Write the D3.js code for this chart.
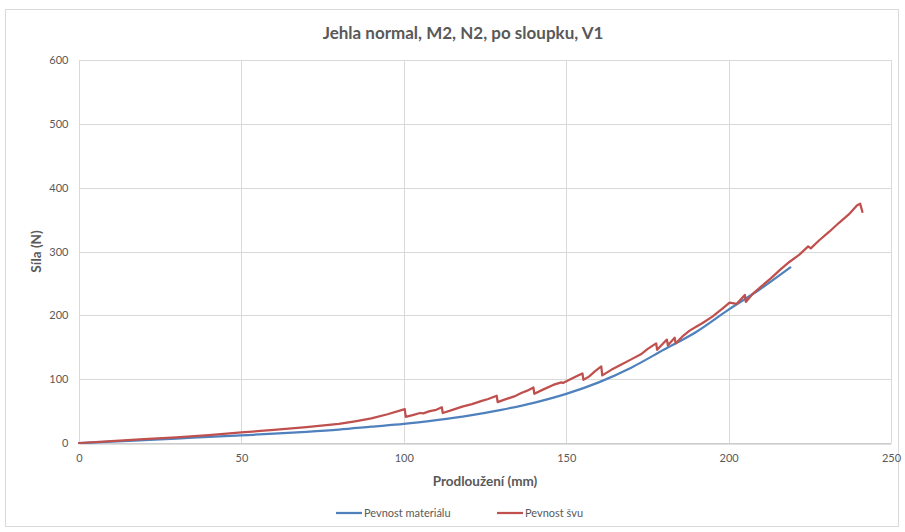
<!DOCTYPE html>
<html>
<head>
<meta charset="utf-8">
<script src="https://cdn.jsdelivr.net/npm/d3@7/dist/d3.min.js"></script>
<style>
  html, body { margin: 0; padding: 0; background: #fff; }
  svg { display: block; }
  text { font-family: Lato, "Noto Sans", sans-serif; }
</style>
</head>
<body>
<svg id="chart" width="905" height="532"></svg>
<script>
// Tensile test: elongation (mm) vs force (N)
const chartTitle = "Jehla normal, M2, N2, po sloupku, V1";
const xTitle = "Prodloužení (mm)";
const yTitle = "Síla (N)";
const xTicks = [0, 50, 100, 150, 200, 250];
const yTicks = [0, 100, 200, 300, 400, 500, 600];
const seriesNames = ["Pevnost materiálu", "Pevnost švu"];

// Material strength (smooth curve)
const materialX = [0, 10, 20, 30, 40, 50, 60, 70, 80, 90, 100, 110, 120, 130, 140, 150, 160, 170, 180, 190, 200, 210, 219];
const materialY = [0, 2, 4.5, 7, 9.5, 12, 14.5, 17.5, 21, 25.5, 30, 36, 43, 52, 63, 77, 95, 118, 146, 174, 209, 242, 275];

// Seam strength (with stitch breaks)
const seamX = [0, 10, 20, 30, 40, 50, 60, 70, 80, 85, 90, 95, 100.3, 100.6, 103, 105, 106, 108, 110, 111.7, 112, 115, 118, 121, 124, 126, 128.6, 128.9, 131, 134, 136, 138, 139.9, 140.2, 143, 146, 148.5, 149, 151, 153, 155, 155.3, 157, 159, 160.8, 161.1, 164, 167, 170, 173, 175, 177.7, 178, 181, 181.3, 183.4, 183.7, 186, 188, 190, 192, 195, 198, 200.3, 202.5, 205, 205.3, 207.5, 210, 213, 216, 218.8, 221.8, 224.5, 225.3, 228, 231, 234, 237, 239.5, 240.5, 241.2];
const seamY = [0, 3, 6, 9, 12.5, 16.5, 20.5, 25, 30, 34, 38.5, 45, 53, 41, 44, 47, 46.5, 50, 52, 56, 47, 52, 57, 61, 66, 69, 74, 64, 68, 73, 78, 82, 87, 77, 84, 91, 95, 94, 99, 104, 109, 99, 104, 113, 120, 106, 115, 123, 131, 139, 147, 156, 146, 162, 153, 165, 156, 168, 176, 182, 188, 198, 210, 220, 218, 232, 221, 234, 245, 258, 272, 284, 295, 308, 305, 318, 331, 345, 358, 372, 375, 362];

const colors = ["#4F81BD", "#C0504D"];

const svg = d3.select("#chart");
const W = 905, H = 532;
const margin = { left: 79, right: 14, top: 60, bottom: 89 };
const x = d3.scaleLinear().domain([0, 250]).range([margin.left, W - margin.right]);
const y = d3.scaleLinear().domain([0, 600]).range([H - margin.bottom, margin.top]);

// chart frame
svg.append("rect")
  .attr("x", 5.5).attr("y", 9.5).attr("width", 893).attr("height", 517)
  .attr("fill", "#fff").attr("stroke", "#d9d9d9").attr("stroke-width", 1);

// title
svg.append("text")
  .attr("x", 463).attr("y", 39)
  .attr("text-anchor", "middle")
  .attr("font-size", 17).attr("font-weight", 700)
  .attr("fill", "#595959")
  .text(chartTitle);

// grid
const grid = svg.append("g");
grid.selectAll(".hg").data(yTicks).join("line")
  .attr("x1", x(0)).attr("x2", x(250))
  .attr("y1", d => Math.round(y(d)) + 0.5).attr("y2", d => Math.round(y(d)) + 0.5)
  .attr("stroke", "#d9d9d9").attr("stroke-width", 1);
grid.selectAll(".vg").data(xTicks).join("line")
  .attr("x1", d => Math.round(x(d)) + 0.5).attr("x2", d => Math.round(x(d)) + 0.5)
  .attr("y1", y(0)).attr("y2", y(600))
  .attr("stroke", "#d9d9d9").attr("stroke-width", 1);

// axes
const xAxis = svg.append("g")
  .attr("transform", `translate(0,${Math.round(y(0)) + 0.5})`)
  .call(d3.axisBottom(x).tickValues(xTicks).tickSize(0).tickPadding(11));
xAxis.select(".domain").attr("stroke", "#bfbfbf");
xAxis.selectAll("text").attr("font-size", 11).attr("fill", "#595959")
  .attr("font-family", "Lato, 'Noto Sans', sans-serif");

const yAxis = svg.append("g")
  .attr("transform", `translate(${Math.round(x(0)) + 0.5},0)`)
  .call(d3.axisLeft(y).tickValues(yTicks).tickSize(0).tickPadding(11));
yAxis.select(".domain").remove();
yAxis.selectAll("text").attr("font-size", 11).attr("fill", "#595959")
  .attr("font-family", "Lato, 'Noto Sans', sans-serif");

// axis titles
svg.append("text")
  .attr("x", (x(0) + x(250)) / 2).attr("y", 486)
  .attr("text-anchor", "middle")
  .attr("font-size", 13.5).attr("font-weight", 700).attr("fill", "#595959")
  .text(xTitle);
svg.append("text")
  .attr("transform", `translate(41,${(y(0) + y(600)) / 2}) rotate(-90)`)
  .attr("text-anchor", "middle")
  .attr("font-size", 13.5).attr("font-weight", 700).attr("fill", "#595959")
  .text(yTitle);

// series: material curve is smoothed, seam curve keeps its sharp breaks
const series = [
  materialX.map((v, i) => [v, materialY[i]]),
  seamX.map((v, i) => [v, seamY[i]])
];
const smoothLine = d3.line().curve(d3.curveMonotoneX).x(d => x(d[0])).y(d => y(d[1]));
const rawLine = d3.line().x(d => x(d[0])).y(d => y(d[1]));
svg.append("g").selectAll("path").data(series).join("path")
  .attr("d", (d, i) => i === 0 ? smoothLine(d) : rawLine(d))
  .attr("fill", "none")
  .attr("stroke", (d, i) => colors[i])
  .attr("stroke-width", 2.25)
  .attr("stroke-linejoin", "round")
  .attr("stroke-linecap", "round");

// legend
const legendItems = [{ x: 336 }, { x: 497 }];
const lg = svg.append("g").selectAll("g").data(seriesNames).join("g")
  .attr("transform", (d, i) => `translate(${legendItems[i].x},513)`);
lg.append("line")
  .attr("x1", 0).attr("x2", 26).attr("y1", 0).attr("y2", 0)
  .attr("stroke", (d, i) => colors[i]).attr("stroke-width", 2.25);
lg.append("text")
  .attr("x", 28).attr("y", 4)
  .attr("font-size", 11).attr("fill", "#595959")
  .text(d => d);
</script>
</body>
</html>
